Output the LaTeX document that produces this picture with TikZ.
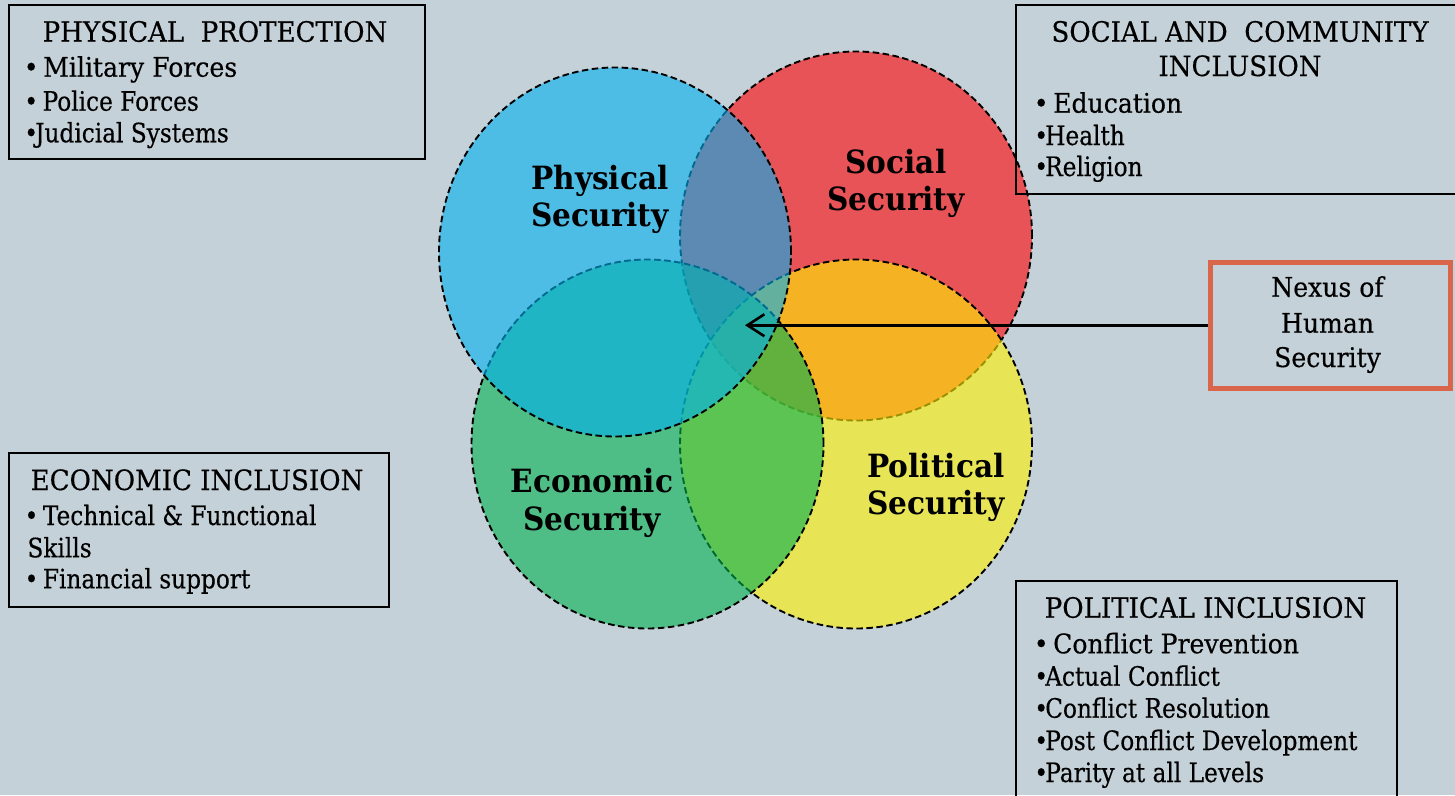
\documentclass[tikz,border=0pt]{standalone}
\usepackage{fontspec}
\setmainfont{DejaVu Serif}[FakeStretch=0.93, FakeBold=0.4]
\newfontfamily\itemfont{DejaVu Serif}[FakeStretch=0.87, FakeBold=0.4]
\newfontfamily\lblfont{DejaVu Serif}[FakeStretch=0.925]
\usetikzlibrary{shapes.geometric,arrows.meta}

\definecolor{bgcol}{RGB}{197,209,216}
\definecolor{nexusborder}{RGB}{217,101,75}

% bullet of fixed width, so the item text starts at a known offset
\newcommand{\bul}{\makebox[8pt][c]{•}}

\tikzset{
  venn/.style={ellipse, minimum width=352pt, minimum height=369pt, inner sep=0pt,
    draw=black, line width=1.9pt, dash pattern=on 6.5pt off 3.5pt, fill opacity=0.6},
  infobox/.style={rectangle, draw=black, line width=2pt, inner sep=0pt, anchor=north west},
  boxtitle/.style={anchor=base, inner sep=0pt, font=\fontsize{28}{32}\selectfont},
  boxlead/.style={anchor=base west, inner sep=0pt, font=\fontsize{27}{30}\selectfont},
  boxitem/.style={anchor=base west, inner sep=0pt, font=\itemfont\fontsize{26.7}{30}\selectfont},
  vennlabel/.style={anchor=base, inner sep=0pt, font=\lblfont\bfseries\fontsize{32}{36}\selectfont},
  nexustext/.style={anchor=base, inner sep=0pt, font=\fontsize{27}{30}\selectfont},
}

\begin{document}
\begin{tikzpicture}[x=1pt, y=-1pt]
  \useasboundingbox (0,0) rectangle (1455,795);
  \clip (0,0) rectangle (1455,795);
  \fill[bgcol] (0,0) rectangle (1455,795);

  % the four overlapping security circles, back to front
  \node[venn, fill=red]           (social)    at (856,236)   {};
  \node[venn, fill=yellow]        (political) at (856,444)   {};
  \node[venn, fill={rgb,255:red,0;green,176;blue,80}]  (economic) at (647.5,444) {};
  \node[venn, fill={rgb,255:red,0;green,176;blue,240}] (physical) at (615,252)   {};

  % circle labels
  \node[vennlabel] (physA) at (600,189.2) {Physical};
  \node[vennlabel] (physB) at (600,226.8) {Security};
  \node[vennlabel] (socA)  at (896,173)   {Social};
  \node[vennlabel] (socB)  at (896,210.6) {Security};
  \node[vennlabel] (ecoA)  at (592,492.8) {Economic};
  \node[vennlabel] (ecoB)  at (592,530.4) {Security};
  \node[vennlabel] (polA)  at (936,477)   {Political};
  \node[vennlabel] (polB)  at (936,514.6) {Security};

  % physical protection
  \node[infobox, minimum width=416pt, minimum height=154pt] (ppbox) at (8,4) {};
  \node[boxtitle] (ppT)  at (215,41.7)  {PHYSICAL~~PROTECTION};
  \node[boxlead]  (pp1)  at (27,76.7)   {\bul\ Military Forces};
  \node[boxitem]  (pp2)  at (27,110.7)  {\bul\ Police Forces};
  \node[boxitem]  (pp3)  at (27,142.3)  {\bul Judicial Systems};

  % social and community inclusion
  \node[infobox, minimum width=470pt, minimum height=189pt] (scbox) at (1015,4) {};
  \node[boxtitle] (scT1) at (1240,41.7) {SOCIAL AND~~COMMUNITY};
  \node[boxtitle] (scT2) at (1240,76)   {INCLUSION};
  \node[boxlead]  (sc1)  at (1037,112.7) {\bul\ Education};
  \node[boxitem]  (sc2)  at (1037,145)   {\bul Health};
  \node[boxitem]  (sc3)  at (1037,176)   {\bul Religion};

  % economic inclusion
  \node[infobox, minimum width=380pt, minimum height=154pt] (ecbox) at (8,452) {};
  \node[boxtitle] (ecT)  at (197,490)   {ECONOMIC INCLUSION};
  \node[boxitem]  (ec1)  at (27.3,525)  {\bul\ Technical \& Functional};
  \node[boxitem]  (ec2)  at (27.3,557.3) {Skills};
  \node[boxitem]  (ec3)  at (27.3,588.3) {\bul\ Financial support};

  % political inclusion
  \node[infobox, minimum width=381pt, minimum height=240pt] (pobox) at (1015,580) {};
  \node[boxtitle] (poT)  at (1205.5,617.7) {POLITICAL INCLUSION};
  \node[boxlead]  (po1)  at (1037,653.3) {\bul\ Conflict Prevention};
  \node[boxitem]  (po2)  at (1037,685.7) {\bul Actual Conflict};
  \node[boxitem]  (po3)  at (1037,717.7) {\bul Conflict Resolution};
  \node[boxitem]  (po4)  at (1037,750)   {\bul Post Conflict Development};
  \node[boxitem]  (po5)  at (1037,782)   {\bul Parity at all Levels};

  % nexus callout
  \node[rectangle, draw=nexusborder, line width=4.5pt, inner sep=0pt, anchor=north west,
        minimum width=240pt, minimum height=126pt] (nexus) at (1208,260) {};
  \node[nexustext] (nx1) at (1327.5,296.7) {Nexus of};
  \node[nexustext] (nx2) at (1327.5,332.7) {Human};
  \node[nexustext] (nx3) at (1327.5,367)   {Security};

  \coordinate (core) at (745,323);
  \draw[line width=2.8pt, -{Straight Barb[length=17pt,width=22pt,line width=2.6pt]}]
    (nexus.west) -- (nexus.west -| core);
\end{tikzpicture}
\end{document}
